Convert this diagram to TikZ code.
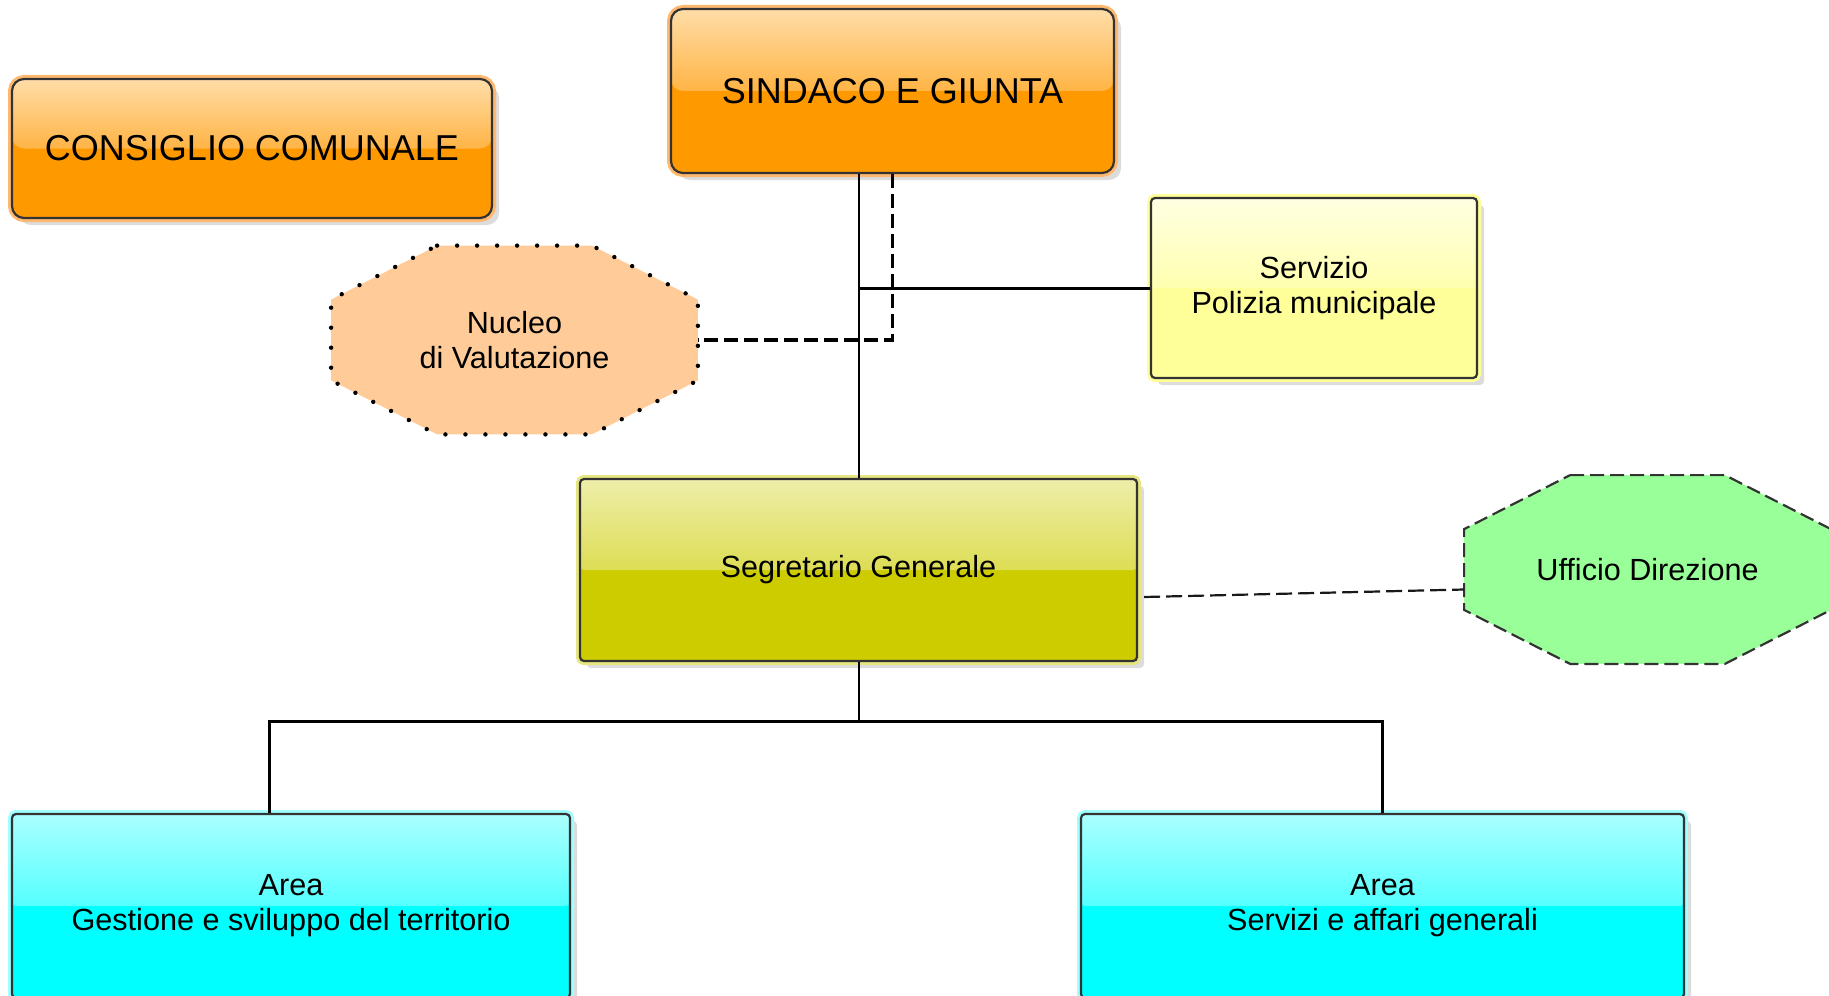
\documentclass[tikz,border=0pt]{standalone}
\usepackage{fontspec}
\setmainfont{Liberation Sans}
\usepackage{tikz}
\usetikzlibrary{positioning}
\usetikzlibrary{calc}
\usetikzlibrary{shadows}
\usetikzlibrary{backgrounds}
\definecolor{orB}{HTML}{FF9900}
\definecolor{orM}{HTML}{FFB445}
\definecolor{orT}{HTML}{FFDDA8}
\definecolor{orG}{HTML}{FFB870}
\definecolor{yeB}{HTML}{FFFF99}
\definecolor{yeM}{HTML}{FFFFB0}
\definecolor{yeT}{HTML}{FFFFE2}
\definecolor{olB}{HTML}{CCCC00}
\definecolor{olM}{HTML}{DDDD55}
\definecolor{olT}{HTML}{EEEEAA}
\definecolor{olG}{HTML}{E6E680}
\definecolor{cyB}{HTML}{00FFFF}
\definecolor{cyM}{HTML}{55FFFF}
\definecolor{cyT}{HTML}{AAFFFF}
\definecolor{cyG}{HTML}{A0FFFF}
\definecolor{peach}{HTML}{FFCC99}
\definecolor{mint}{HTML}{99FF99}
\tikzset{
  glossy/.style n args={4}{
    preaction={drop shadow={opacity=0.28,shadow xshift=3.5pt,shadow yshift=-3.5pt}},
    preaction={draw=#4,line width=4pt},
    path picture={
      \fill[#3] (path picture bounding box.south west) rectangle (path picture bounding box.north east);
      \shade[top color=#1,bottom color=#2] (path picture bounding box.west) rectangle (path picture bounding box.north east);}},
  box/.style={draw=black!80,line width=1.1pt,inner sep=0pt,align=center,
    font=\fontsize{15.3}{17.5}\selectfont},
  obox/.style={box,rounded corners=6pt,glossy={orT}{orM}{orB}{orG},font=\fontsize{18}{21}\selectfont},
  ybox/.style={box,rounded corners=2pt,glossy={yeT}{yeM}{yeB}{yeB}},
  gbox/.style={box,rounded corners=2pt,glossy={olT}{olM}{olB}{olG}},
  cbox/.style={box,rounded corners=2pt,glossy={cyT}{cyM}{cyB}{cyG}},
  octo/.style={minimum width=183pt,minimum height=94pt,inner sep=0pt,align=center,
    font=\fontsize{15.3}{17.5}\selectfont},
  dots/.style={fill=peach,draw=black,line width=2.2pt,line cap=round,dash pattern=on 0pt off 10pt},
  dashes/.style={fill=mint,draw=black!80,line width=1.1pt,dash pattern=on 7pt off 3pt},
  link/.style={line width=1pt},
  thick link/.style={line width=1.5pt},
  dlink/.style={line width=1.7pt,dash pattern=on 7pt off 3pt},
  thin dlink/.style={line width=1.1pt,black!90,dash pattern=on 8pt off 3pt}
}
\newcommand{\octagon}[2]{\draw[#2] ($(#1.north west)+(53pt,0)$) -- ($(#1.north east)+(-53pt,0)$) -- ($(#1.north east)+(0,-27pt)$) -- ($(#1.south east)+(0,27pt)$) -- ($(#1.south east)+(-53pt,0)$) -- ($(#1.south west)+(53pt,0)$) -- ($(#1.south west)+(0,27pt)$) -- ($(#1.north west)+(0,-27pt)$) -- cycle;}

\begin{document}
\begin{tikzpicture}[x=0.5pt,y=-0.5pt]
\useasboundingbox (0,0) rectangle (1829,995);
\node[obox,minimum width=240pt,minimum height=69.5pt] (cc) at (252,148.5) {CONSIGLIO COMUNALE};
\node[obox,minimum width=221.5pt,minimum height=82pt] (sg) at (892.5,91) {SINDACO E GIUNTA};
\node[ybox,minimum width=163pt,minimum height=90pt] (pm) at (1314,288) {Servizio\\Polizia municipale};
\node[octo] (nv) at (514.5,340) {Nucleo\\di Valutazione};
\node[gbox,minimum width=278.5pt,minimum height=91pt] (seg) at (858.5,570) {Segretario Generale};
\node[octo] (ud) at (1647.5,569.5) {Ufficio Direzione};
\node[cbox,minimum width=279pt,minimum height=92pt] (a1) at (291,906) {Area\\Gestione e sviluppo del territorio};
\node[cbox,minimum width=301.5pt,minimum height=92pt] (a2) at (1382.5,906) {Area\\Servizi e affari generali};
\coordinate (fork) at (858.5,721);
\begin{scope}[on background layer]
\octagon{nv}{dots}
\octagon{ud}{dashes}
\end{scope}
\draw[link] (seg.north) -- (seg.north |- sg.south);
\draw[thick link] (pm.west) -- (pm.west -| seg.north);
\draw[dlink] (sg.south) |- (nv.east);
\draw[link] (seg.south) -- (fork);
\draw[thick link] ($(a1.north)+(-11pt,0)$) |- (fork) -| (a2.north);
\draw[thin dlink] ($(seg.east)+(3pt,-13.5pt)$) -- ($(ud.west)+(0,-10pt)$);
\end{tikzpicture}
\end{document}
